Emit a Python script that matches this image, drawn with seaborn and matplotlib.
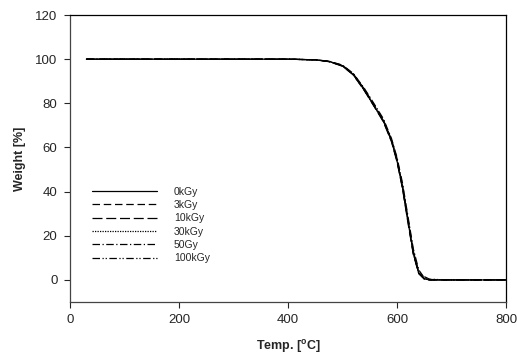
import numpy as np
import pandas as pd
import matplotlib
matplotlib.use("Agg")
import matplotlib.pyplot as plt
import seaborn as sns

# TGA curves
temp = [30, 100, 200, 300, 400, 450, 475, 500, 520, 540, 560, 575, 590, 600, 610, 620, 630, 640, 650, 660, 700, 800]
w_0kGy   = [100, 100, 100, 100, 100, 99.7, 99.0, 97.0, 93.0, 86.0, 78.0, 72.0, 63.0, 54.0, 42.0, 27.0, 12.0, 3.0, 0.5, 0.0, 0.0, 0.0]
w_3kGy   = [100, 100, 100, 100, 100, 99.7, 99.0, 97.2, 93.3, 86.5, 78.5, 72.5, 63.5, 55.0, 43.0, 28.0, 13.0, 3.5, 0.6, 0.0, 0.0, 0.0]
w_10kGy  = [100, 100, 100, 100, 100, 99.7, 98.9, 96.8, 92.8, 85.8, 77.8, 71.6, 62.5, 53.5, 41.5, 26.0, 11.5, 2.8, 0.4, 0.0, 0.0, 0.0]
w_30kGy  = [100, 100, 100, 100, 100, 99.7, 99.0, 97.1, 93.1, 86.2, 78.2, 72.2, 63.2, 54.5, 42.5, 27.5, 12.5, 3.2, 0.5, 0.0, 0.0, 0.0]
w_50Gy   = [100, 100, 100, 100, 100, 99.7, 99.1, 97.3, 93.5, 86.8, 79.0, 73.0, 64.0, 55.5, 44.0, 29.0, 14.0, 4.5, 1.0, 0.2, 0.0, 0.0]
w_100kGy = [100, 100, 100, 100, 100, 99.7, 98.9, 96.9, 92.9, 85.9, 78.0, 72.0, 63.0, 54.0, 42.0, 27.0, 12.0, 3.0, 1.5, 0.3, 0.0, 0.0]

labels = ["0kGy", "3kGy", "10kGy", "30kGy", "50Gy", "100kGy"]
series = [w_0kGy, w_3kGy, w_10kGy, w_30kGy, w_50Gy, w_100kGy]

df = pd.concat([pd.DataFrame({"temp": temp, "weight": w, "dose": lab})
                for lab, w in zip(labels, series)], ignore_index=True)

sns.set_style("ticks")
plt.rcParams['font.family'] = ['Liberation Sans', 'DejaVu Sans']

fig = plt.figure(figsize=(5.17, 3.55), dpi=100)
ax = fig.add_axes([0.1354, 0.1493, 0.8433, 0.8084])

dashes = {"0kGy": "", "3kGy": (6, 3), "10kGy": (8, 3), "30kGy": (1, 1),
          "50Gy": (6, 2, 1, 2), "100kGy": (6, 2, 1, 1.5, 1, 2)}
sns.lineplot(data=df, x="temp", y="weight", hue="dose", style="dose",
             palette=["black"] * 6, dashes=dashes, linewidth=0.9, ax=ax)

ax.set_xlim(0, 800)
ax.set_ylim(-10, 120)
ax.set_xticks([0, 200, 400, 600, 800])
ax.set_yticks([0, 20, 40, 60, 80, 100, 120])
ax.tick_params(labelsize=9.5, length=4, width=0.8, direction="out", pad=5)
for s in ax.spines.values():
    s.set_linewidth(0.9)
    s.set_color("black")
ax.spines["left"].set_color("#444444")
ax.spines["bottom"].set_color("#444444")

ax.set_xlabel("Temp. [$\\mathregular{^oC}$]", fontsize=9, fontweight="bold", labelpad=8)
ax.set_ylabel("Weight [%]", fontsize=9, fontweight="bold", labelpad=7)

ax.legend(frameon=False, fontsize=7.5, handlelength=6.2, handletextpad=1.6,
          labelspacing=0.32, loc="upper left", bbox_to_anchor=(0.03, 0.435))

fig.savefig("out.png", dpi=100)
